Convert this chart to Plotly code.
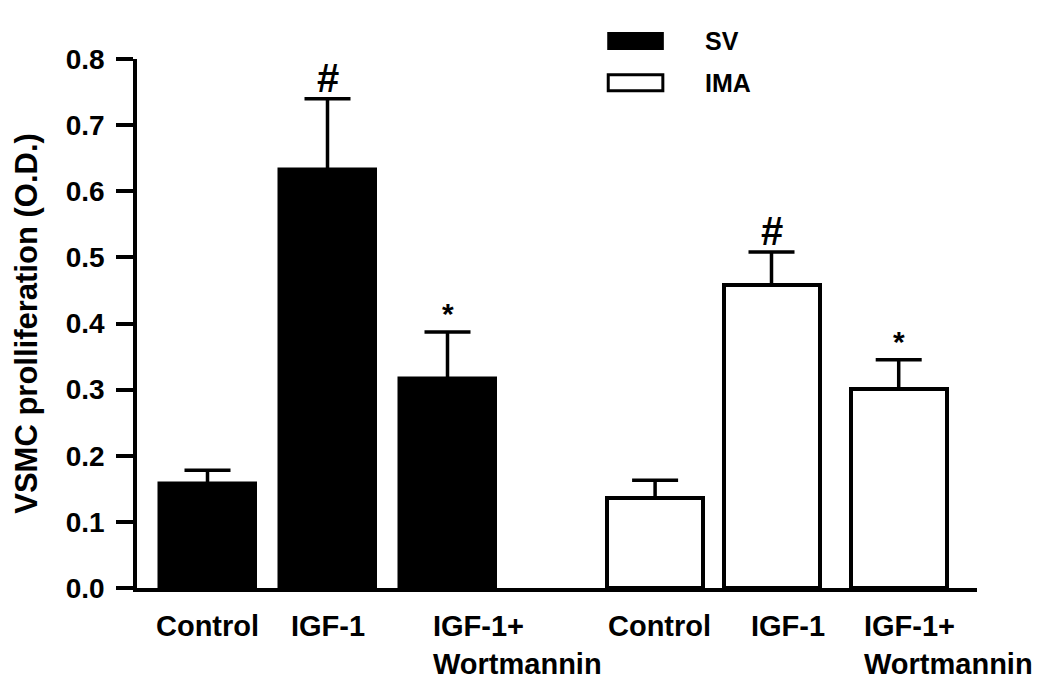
import plotly.graph_objects as go

# ---- data ----
categories = ["Control", "IGF-1", "IGF-1+<br>Wortmannin"]
groups = ["SV", "IMA"]
sv_mean = [0.157, 0.632, 0.316]
sv_sem = [0.021, 0.108, 0.071]
ima_mean = [0.136, 0.458, 0.301]
ima_sem = [0.027, 0.050, 0.044]
sv_marks = ["", "#", "*"]
ima_marks = ["", "#", "*"]
y_ticks = [0.0, 0.1, 0.2, 0.3, 0.4, 0.5, 0.6, 0.7, 0.8]
y_title = "VSMC prolliferation (O.D.)"

# ---- layout helpers (positions / styles) ----
sv_pos = [0, 1, 2]
ima_pos = [3.73, 4.7, 5.76]
bar_w = 0.8
FONT = "Liberation Sans, Arial, Helvetica, sans-serif"
LW = 3.5

fig = go.Figure()

fig.add_trace(go.Bar(
    x=sv_pos, y=sv_mean, width=bar_w, name=groups[0],
    marker=dict(color="black", line=dict(color="black", width=LW)),
    error_y=dict(type="data", array=sv_sem, arrayminus=[0] * len(sv_sem),
                 symmetric=False, color="black", thickness=LW, width=23),
    showlegend=False,
))
fig.add_trace(go.Bar(
    x=ima_pos, y=ima_mean, width=bar_w, name=groups[1],
    marker=dict(color="white", line=dict(color="black", width=4)),
    error_y=dict(type="data", array=ima_sem, arrayminus=[0] * len(ima_sem),
                 symmetric=False, color="black", thickness=LW, width=23),
    showlegend=False,
))

annotations = []
# significance marks
for pos, m, s, mk in list(zip(sv_pos, sv_mean, sv_sem, sv_marks)) + list(zip(ima_pos, ima_mean, ima_sem, ima_marks)):
    if not mk:
        continue
    big = mk == "#"
    annotations.append(dict(
        x=pos, y=m + s, xref="x", yref="y", text=mk, showarrow=False,
        yanchor="bottom", yshift=(-3 if big else 0),
        font=dict(family=FONT, size=(40 if big else 30), color="black", weight="bold"),
    ))

# category labels
label_shift = {0: (0, "center"), 1: (0, "center"), 2: (-17, "left")}
ima_label_shift = {0: (4, "center"), 1: (16, "center"), 2: (-37, "left")}
for poss, shifts in ((sv_pos, label_shift), (ima_pos, ima_label_shift)):
    for i, (pos, cat) in enumerate(zip(poss, categories)):
        xs, xa = shifts[i]
        annotations.append(dict(
            x=pos, y=0, xref="x", yref="paper", text=cat, showarrow=False,
            xanchor=xa, yanchor="top", align="left", xshift=xs, yshift=-20,
            font=dict(family=FONT, size=29, color="black", weight="bold"),
        ))

# legend (manual, large swatches)
leg_y = [1.034, 0.955]
fig.add_shape(type="rect", xref="paper", yref="paper", x0=0.561, x1=0.626,
              y0=leg_y[0] - 0.015, y1=leg_y[0] + 0.015,
              fillcolor="black", line=dict(color="black", width=2))
fig.add_shape(type="rect", xref="paper", yref="paper", x0=0.561, x1=0.626,
              y0=leg_y[1] - 0.015, y1=leg_y[1] + 0.015,
              fillcolor="white", line=dict(color="black", width=3))
for g, yy in zip(groups, leg_y):
    annotations.append(dict(
        x=0.674, y=yy, xref="paper", yref="paper", text=g, showarrow=False,
        xanchor="left", yanchor="middle",
        font=dict(family=FONT, size=25, color="black", weight="bold"),
    ))

# page body has an 8px margin: shrink the figure and margins to compensate
fig.update_layout(
    width=1042, height=682,
    margin=dict(l=129, r=73, t=51, b=102, autoexpand=False),
    paper_bgcolor="white", plot_bgcolor="white",
    font=dict(family=FONT, color="black"),
    annotations=annotations,
    bargap=0,
)
fig.update_xaxes(
    range=[-0.5875, 6.4125], showgrid=False, zeroline=False,
    showline=True, linecolor="black", linewidth=LW,
    showticklabels=False, ticks="",
)
fig.update_yaxes(
    range=[0, 0.8], tickvals=y_ticks, ticktext=[f"{v:.1f}" for v in y_ticks],
    showgrid=False, zeroline=False,
    showline=True, linecolor="black", linewidth=LW,
    ticks="outside", ticklen=17, tickwidth=LW, tickcolor="black",
    ticklabelstandoff=6,
    tickfont=dict(family=FONT, size=28, color="black", weight="bold"),
    title=dict(text=y_title, standoff=20,
               font=dict(family=FONT, size=31, color="black", weight="bold")),
)

fig.write_html("out.html")
